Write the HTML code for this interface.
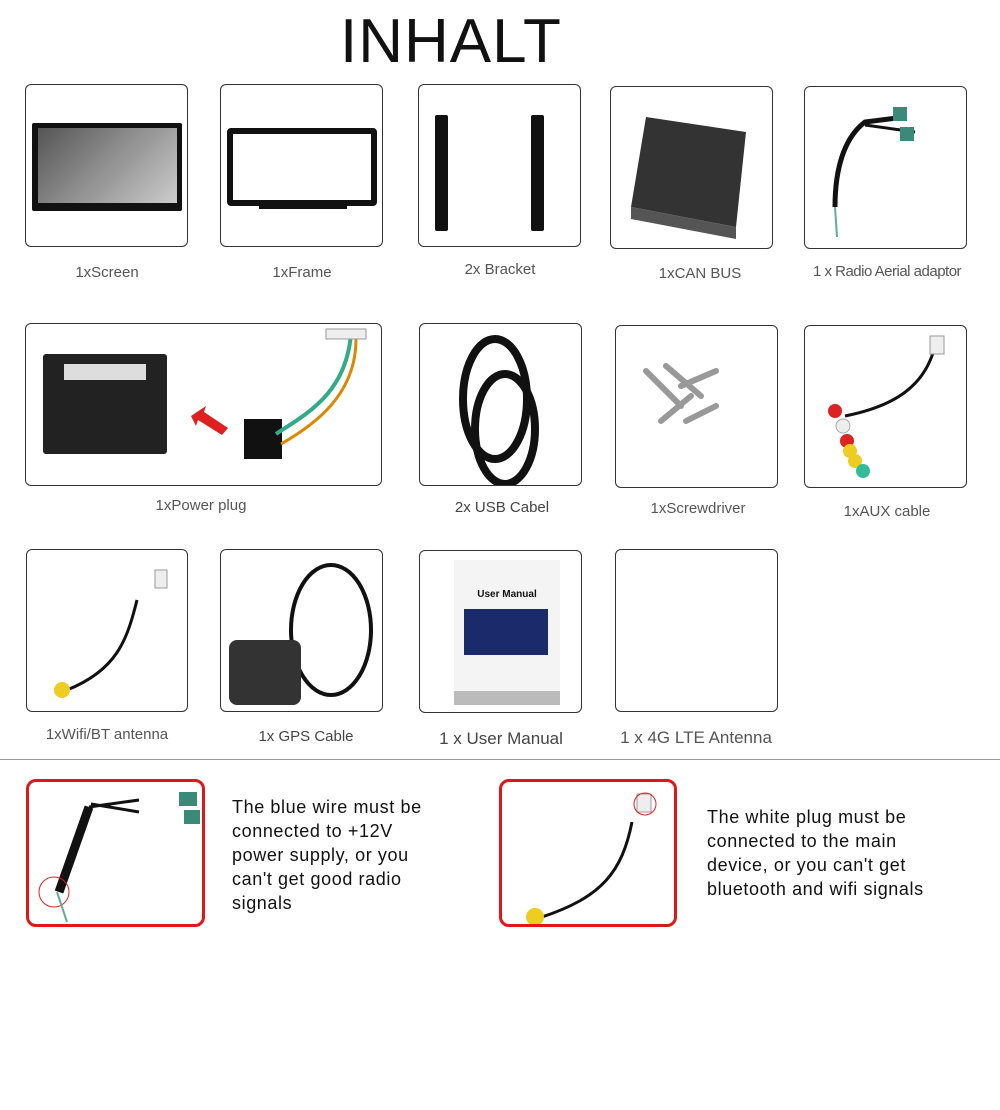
<!DOCTYPE html>
<html><head><meta charset="utf-8"><style>
body{margin:0;width:1000px;height:1110px;background:#fff;position:relative;overflow:hidden;font-family:"Liberation Sans",sans-serif}
.b{position:absolute;border:1px solid #333;border-radius:6px;background:#fff;box-sizing:border-box;overflow:hidden}
.l{position:absolute;font-size:15px;color:#555;text-align:center;width:200px}
.r{position:absolute;border:3px solid #e0161b;border-radius:10px;box-sizing:border-box;overflow:hidden}
.t{position:absolute;font-size:18px;line-height:24px;color:#111;letter-spacing:0.6px}
svg{position:absolute;left:0;top:0}
</style></head><body>
<div style="position:absolute;left:340px;top:6px;font-size:62px;color:#111;letter-spacing:1px">INHALT</div>

<!-- row1 -->
<div class="b" style="left:25px;top:84px;width:163px;height:163px">
 <div style="position:absolute;left:6px;top:38px;width:150px;height:88px;background:#111;border-radius:2px"></div>
 <div style="position:absolute;left:12px;top:43px;width:139px;height:75px;background:linear-gradient(135deg,#555,#ccc)"></div>
</div>
<div class="b" style="left:220px;top:84px;width:163px;height:163px">
 <div style="position:absolute;left:6px;top:43px;width:150px;height:78px;border:6px solid #111;border-radius:4px;box-sizing:border-box"></div>
 <div style="position:absolute;left:38px;top:118px;width:88px;height:6px;background:#111"></div>
</div>
<div class="b" style="left:418px;top:84px;width:163px;height:163px">
 <div style="position:absolute;left:16px;top:30px;width:13px;height:116px;background:#111;border-radius:2px"></div>
 <div style="position:absolute;left:112px;top:30px;width:13px;height:116px;background:#111;border-radius:2px"></div>
</div>
<div class="b" style="left:610px;top:86px;width:163px;height:163px">
 <svg width="163" height="163"><polygon points="35,30 135,45 125,140 20,120" fill="#333"/><polygon points="20,120 125,140 125,152 20,132" fill="#555"/></svg>
</div>
<div class="b" style="left:804px;top:86px;width:163px;height:163px">
 <svg width="163" height="163"><path d="M30,120 C30,80 40,50 60,35 L100,30" stroke="#111" stroke-width="5" fill="none"/><path d="M60,38 L110,45" stroke="#111" stroke-width="3" fill="none"/><rect x="88" y="20" width="14" height="14" fill="#3a8a7a"/><rect x="95" y="40" width="14" height="14" fill="#3a8a7a"/><path d="M30,120 L32,150" stroke="#6a9" stroke-width="2"/></svg>
</div>
<div class="l" style="left:7px;top:264px">1xScreen</div>
<div class="l" style="left:202px;top:264px">1xFrame</div>
<div class="l" style="left:400px;top:261px">2x Bracket</div>
<div class="l" style="left:600px;top:265px">1xCAN BUS</div>
<div class="l" style="left:787px;top:263px;letter-spacing:-0.5px">1 x Radio Aerial adaptor</div>

<!-- row2 -->
<div class="b" style="left:25px;top:323px;width:357px;height:163px">
 <div style="position:absolute;left:17px;top:30px;width:124px;height:100px;background:#222;border-radius:3px"></div>
 <div style="position:absolute;left:38px;top:40px;width:82px;height:16px;background:#ddd"></div>
 <svg width="357" height="163"><polygon points="165,92 180,82 178,88 202,104 196,111 172,96 170,102" fill="#e02020"/><rect x="218" y="95" width="38" height="40" fill="#111"/><path d="M250,110 C280,90 320,70 325,10" stroke="#3a8" stroke-width="4" fill="none"/><path d="M255,120 C290,100 330,70 330,15" stroke="#d80" stroke-width="3" fill="none"/><rect x="300" y="5" width="40" height="10" fill="#eee" stroke="#999"/></svg>
</div>
<div class="b" style="left:419px;top:323px;width:163px;height:163px">
 <svg width="163" height="163"><ellipse cx="75" cy="75" rx="32" ry="60" fill="none" stroke="#111" stroke-width="8"/><ellipse cx="85" cy="105" rx="30" ry="55" fill="none" stroke="#111" stroke-width="8"/></svg>
</div>
<div class="b" style="left:615px;top:325px;width:163px;height:163px">
 <svg width="163" height="163"><g stroke="#999" stroke-width="6" stroke-linecap="round"><line x1="30" y1="45" x2="65" y2="80"/><line x1="50" y1="40" x2="85" y2="70"/><line x1="65" y1="60" x2="100" y2="45"/><line x1="45" y1="95" x2="75" y2="70"/><line x1="70" y1="95" x2="100" y2="80"/></g></svg>
</div>
<div class="b" style="left:804px;top:325px;width:163px;height:163px">
 <svg width="163" height="163"><path d="M130,20 C120,60 90,80 40,90" stroke="#111" stroke-width="3" fill="none"/><rect x="125" y="10" width="14" height="18" fill="#eee" stroke="#999"/><circle cx="30" cy="85" r="7" fill="#d22"/><circle cx="38" cy="100" r="7" fill="#eee" stroke="#aaa"/><circle cx="42" cy="115" r="7" fill="#d22"/><circle cx="45" cy="125" r="7" fill="#ec2"/><circle cx="50" cy="135" r="7" fill="#ec2"/><circle cx="58" cy="145" r="7" fill="#3b9"/></svg>
</div>
<div class="l" style="left:101px;top:497px">1xPower plug</div>
<div class="l" style="left:402px;top:499px;color:#444">2x USB Cabel</div>
<div class="l" style="left:598px;top:500px">1xScrewdriver</div>
<div class="l" style="left:787px;top:503px">1xAUX cable</div>

<!-- row3 -->
<div class="b" style="left:26px;top:549px;width:162px;height:163px">
 <svg width="162" height="163"><path d="M110,50 C100,90 90,120 40,140" stroke="#111" stroke-width="3" fill="none"/><rect x="128" y="20" width="12" height="18" fill="#eee" stroke="#999"/><circle cx="35" cy="140" r="8" fill="#ec2"/></svg>
</div>
<div class="b" style="left:220px;top:549px;width:163px;height:163px">
 <svg width="163" height="163"><ellipse cx="110" cy="80" rx="40" ry="65" fill="none" stroke="#111" stroke-width="4"/><rect x="8" y="90" width="72" height="65" rx="8" fill="#333"/></svg>
</div>
<div class="b" style="left:419px;top:550px;width:163px;height:163px">
 <div style="position:absolute;left:34px;top:9px;width:106px;height:145px;background:#f4f4f4"></div>
 <div style="position:absolute;left:34px;top:38px;width:106px;text-align:center;font-size:10px;font-weight:bold;color:#111">User Manual</div>
 <div style="position:absolute;left:44px;top:58px;width:84px;height:46px;background:#1a2a6a"></div>
 <div style="position:absolute;left:34px;top:140px;width:106px;height:14px;background:#bbb"></div>
</div>
<div class="b" style="left:615px;top:549px;width:163px;height:163px"></div>
<div class="l" style="left:7px;top:726px">1xWifi/BT antenna</div>
<div class="l" style="left:206px;top:728px;color:#444">1x GPS Cable</div>
<div class="l" style="left:401px;top:729px;font-size:17px;color:#444">1 x User Manual</div>
<div class="l" style="left:596px;top:728px;font-size:17px">1 x 4G LTE Antenna</div>

<div style="position:absolute;left:0;top:759px;width:1000px;height:1px;background:#999"></div>

<div class="r" style="left:26px;top:779px;width:179px;height:148px">
 <svg width="179" height="148"><path d="M60,25 L30,110" stroke="#111" stroke-width="9" fill="none"/><path d="M60,25 L110,18 M62,22 L110,30" stroke="#111" stroke-width="3"/><rect x="150" y="10" width="18" height="14" fill="#3a8a7a"/><rect x="155" y="28" width="16" height="14" fill="#3a8a7a"/><circle cx="25" cy="110" r="15" fill="none" stroke="#d22"/><path d="M28,110 L38,140" stroke="#6a9" stroke-width="2"/></svg>
</div>
<div class="t" style="left:232px;top:795px">The blue wire must be<br>connected to +12V<br>power supply, or you<br>can't get good radio<br>signals</div>
<div class="r" style="left:499px;top:779px;width:178px;height:148px">
 <svg width="178" height="148"><path d="M130,40 C120,90 100,115 40,135" stroke="#111" stroke-width="3" fill="none"/><rect x="135" y="12" width="14" height="18" fill="#eee" stroke="#999"/><circle cx="143" cy="22" r="11" fill="none" stroke="#d22"/><circle cx="33" cy="135" r="9" fill="#ec2"/></svg>
</div>
<div class="t" style="left:707px;top:805px">The white plug must be<br>connected to the main<br>device, or you can't get<br>bluetooth and wifi signals</div>
</body></html>
